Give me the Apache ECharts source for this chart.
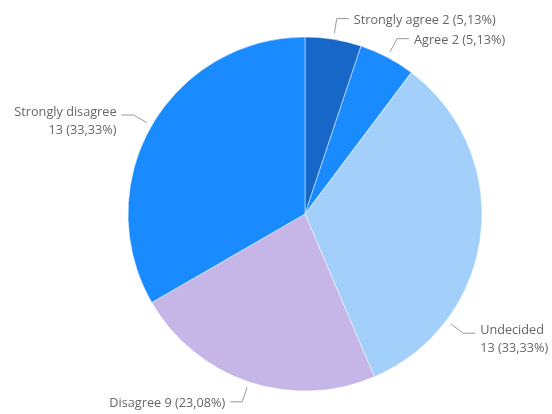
<!DOCTYPE html>
<html>
<head>
<meta charset="utf-8">
<script src="https://cdn.jsdelivr.net/npm/echarts@6/dist/echarts.min.js"></script>
<style>
  html, body { margin: 0; padding: 0; background: #ffffff; }
  #chart { width: 552px; height: 414px; }
</style>
</head>
<body>
<div id="chart"></div>
<script>
// Survey responses
const categories = ['Strongly agree', 'Agree', 'Undecided', 'Disagree', 'Strongly disagree'];
const counts = [2, 2, 13, 9, 13];
const sliceColors = ['#1667C8', '#1A8BFF', '#A3D0FB', '#C5B6E7', '#1A8BFF'];
const twoLineLabels = ['Undecided', 'Strongly disagree'];
// leader anchor angle overrides, degrees clockwise from 12 o'clock
const anchorOverride = { 'Undecided': 127 };

const CX = 305, CY = 214, R = 177;
const GAP = 6, LEN = 15, LEN2 = 12, TEXT_GAP = 5;

const total = counts.reduce((a, b) => a + b, 0);
const pct = v => (v / total * 100).toFixed(2).replace('.', ',') + '%';

// mid angle of each slice, clockwise from the top
const midAngles = [];
let acc = 0;
counts.forEach(v => { midAngles.push((acc + v / 2) / total * 360); acc += v; });

const chart = echarts.init(document.getElementById('chart'), null, { renderer: 'canvas' });
chart.setOption({
  animation: false,
  series: [{
    type: 'pie',
    center: [CX, CY],
    radius: R,
    startAngle: 90,
    clockwise: true,
    data: categories.map((n, i) => ({ name: n, value: counts[i], itemStyle: { color: sliceColors[i] } })),
    itemStyle: { borderColor: 'rgba(255,255,255,0.6)', borderWidth: 0.8 },
    label: {
      show: true,
      position: 'outside',
      overflow: 'none',
      formatter: p => twoLineLabels.includes(p.name)
        ? p.name + '\n' + p.value + ' (' + pct(p.value) + ')'
        : p.name + ' ' + p.value + ' (' + pct(p.value) + ')',
      fontFamily: 'Open Sans',
      fontSize: 12.7,
      color: '#666666',
      lineHeight: 18
    },
    labelLine: { show: true, lineStyle: { color: '#9a9a9a', width: 1 } },
    labelLayout: function (p) {
      const name = categories[p.dataIndex];
      const deg = anchorOverride[name] !== undefined ? anchorOverride[name] : midAngles[p.dataIndex];
      const a = deg * Math.PI / 180, sx = Math.sin(a), sy = -Math.cos(a);
      const p0 = [CX + sx * (R + GAP), CY + sy * (R + GAP)];
      const p1 = [CX + sx * (R + GAP + LEN), CY + sy * (R + GAP + LEN)];
      const side = sx >= 0 ? 1 : -1;
      const p2 = [p1[0] + side * LEN2, p1[1]];
      const dy = twoLineLabels.includes(name) ? 6 : 2;
      return {
        x: p2[0] + side * TEXT_GAP,
        y: p2[1] + dy,
        align: side > 0 ? 'left' : 'right',
        verticalAlign: 'middle',
        labelLinePoints: [p0, p1, p2]
      };
    }
  }]
});
</script>
</body>
</html>
